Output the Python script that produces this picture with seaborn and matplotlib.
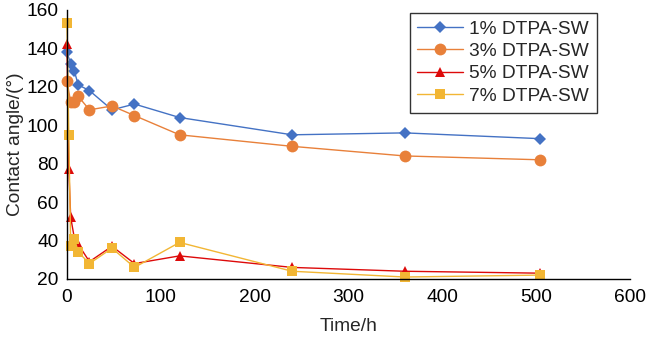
import matplotlib
matplotlib.use("Agg")
import matplotlib.pyplot as plt
import seaborn as sns
import pandas as pd

sns.set_theme(style="white")
plt.rcParams["font.family"] = ["Liberation Sans", "DejaVu Sans"]

# Sampling times (h)
time_a = [0, 4, 8, 12, 24, 48, 72, 120, 240, 360, 504]
time_b = [0, 2, 4, 8, 12, 24, 48, 72, 120, 240, 360, 504]

# Contact angle (deg) for each DTPA-SW concentration
angle_1 = [138, 132, 128, 121, 118, 108, 111, 104, 95, 96, 93]
angle_3 = [123, 112, 112, 115, 108, 110, 105, 95, 89, 84, 82]
angle_5 = [142, 77, 52, 41, 38, 29, 37, 28, 32, 26, 24, 23]
angle_7 = [153, 95, 37, 41, 34, 28, 36, 26, 39, 24, 21, 22]

labels = ["1% DTPA-SW", "3% DTPA-SW", "5% DTPA-SW", "7% DTPA-SW"]
colors = ["#4472C4", "#E8803A", "#DD0A0A", "#F2B634"]
markers = ["D", "o", "^", "s"]
msizes = [6.5, 8.5, 7.5, 7.5]

series = [(time_a, angle_1), (time_a, angle_3), (time_b, angle_5), (time_b, angle_7)]

FS = 13.8

fig = plt.figure(figsize=(6.5, 3.41), dpi=100)
ax = fig.add_axes([0.103, 0.182, 0.866, 0.789])

for (t, a), lab, c, m, ms in zip(series, labels, colors, markers, msizes):
    df = pd.DataFrame({"Time/h": t, "angle": a})
    sns.lineplot(data=df, x="Time/h", y="angle", ax=ax, color=c, marker=m,
                 markersize=ms, markeredgewidth=0, linewidth=1.0, label=lab,
                 sort=False, estimator=None, clip_on=False)

ax.set_xlim(0, 600)
ax.set_ylim(20, 160)
ax.set_xticks(range(0, 601, 100))
ax.set_yticks(range(20, 161, 20))
ax.set_xlabel("Time/h", fontsize=FS, labelpad=9)
ax.set_ylabel("Contact angle/(°)", fontsize=FS, labelpad=2)
ax.tick_params(axis="both", direction="in", length=4, width=1, labelsize=FS,
               color="black", labelcolor="black", pad=6)
ax.tick_params(axis="x", pad=7)

for side in ["top", "right"]:
    ax.spines[side].set_visible(False)
for side in ["left", "bottom"]:
    ax.spines[side].set_color("black")
    ax.spines[side].set_linewidth(1.0)

leg = ax.legend(loc="upper right", bbox_to_anchor=(0.941, 0.99), fontsize=FS,
                frameon=True, fancybox=False, edgecolor="black",
                handlelength=2.4, handletextpad=0.3, borderpad=0.4,
                labelspacing=0.26, borderaxespad=0)
leg.get_frame().set_linewidth(1.0)

fig.savefig("out.png", dpi=100, facecolor="white")
